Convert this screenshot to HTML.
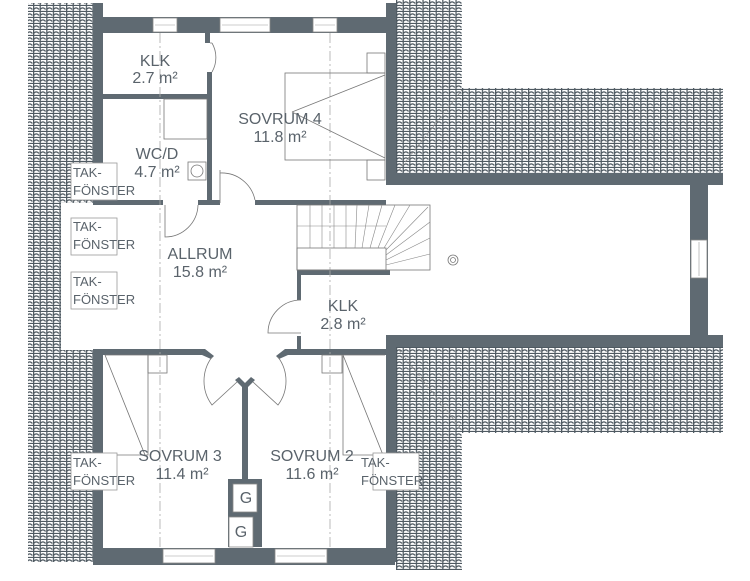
<!DOCTYPE html>
<html><head><meta charset="utf-8">
<style>
html,body{margin:0;padding:0;background:#fff;}
svg{display:block;}
text{font-family:"Liberation Sans",sans-serif;fill:#5a636b;font-size:13px;}
text.r{font-size:16px;text-anchor:middle;}
</style></head><body>
<svg width="750" height="581" viewBox="0 0 750 581" xmlns="http://www.w3.org/2000/svg">
<defs>
<pattern id="t" width="6.6" height="6" patternUnits="userSpaceOnUse">
<rect width="6.6" height="6" fill="#fff"/>
<path d="M0.6,0 V6 M0.6,3.5 Q3.3,0.3 6,3.5 M0.6,5.5 H6.6" stroke="#4f5a62" stroke-width="1.3" fill="none"/>
</pattern>
</defs>
<g fill="url(#t)">
<rect x="28" y="3" width="66" height="200"/>
<rect x="28" y="200" width="33" height="150"/>
<rect x="28" y="350" width="66" height="212"/>
<rect x="396" y="0" width="66" height="90"/>
<rect x="396" y="88" width="327" height="86"/>
<rect x="396" y="347" width="327" height="86"/>
<rect x="396" y="430" width="66" height="140"/>
</g>
<g stroke="#888" stroke-width="0.8" stroke-dasharray="3,2" fill="none">
<line x1="399" y1="170" x2="462" y2="90"/>
<line x1="399" y1="350" x2="462" y2="430"/>
</g>
<g fill="#5f6a72">
<rect x="93" y="3" width="10" height="200"/>
<rect x="93" y="350" width="10" height="215"/>
<rect x="93" y="17" width="302" height="16"/>
<rect x="93" y="548" width="302" height="17"/>
<rect x="386" y="3" width="10" height="182"/>
<rect x="386" y="347" width="10" height="215"/>
<rect x="386" y="173" width="337" height="12"/>
<rect x="386" y="335" width="337" height="12"/>
<rect x="690" y="185" width="18" height="150"/>
<rect x="103" y="94" width="107" height="5"/>
<rect x="207" y="72" width="5" height="130"/>
<rect x="205" y="33" width="5" height="10"/>
<rect x="93" y="200" width="70" height="5"/>
<rect x="198" y="200" width="22" height="5"/>
<rect x="255" y="200" width="131" height="5"/>
<rect x="297" y="270" width="93" height="5"/>
<rect x="297" y="270" width="4" height="30"/>
<rect x="297" y="336" width="4" height="14"/>
<rect x="93" y="349" width="112" height="6"/>
<rect x="285" y="349" width="105" height="6"/>
<rect x="242" y="387" width="6" height="95"/>
<rect x="228" y="479" width="34" height="68"/>
<polygon points="205,349 214,356 211,359 202,355"/>
<polygon points="285,349 276,356 279,359 288,355"/>
<polygon points="242,387 235,380 239,377 245,383 251,377 255,380 248,387"/>
</g>
<g fill="#fff" stroke="#888" stroke-width="0.8">
<rect x="153" y="18" width="24" height="14"/>
<rect x="220" y="18" width="50" height="14"/>
<rect x="313" y="18" width="24" height="14"/>
<rect x="163" y="549" width="52" height="14"/>
<rect x="275" y="549" width="52" height="14"/>
<rect x="691" y="240" width="16" height="38"/>
<rect x="233" y="484" width="24" height="28"/>
<rect x="229" y="517" width="24" height="30"/>
</g>
<g stroke="#999" stroke-width="0.6">
<line x1="155" y1="25" x2="175" y2="25"/><line x1="222" y1="25" x2="268" y2="25"/><line x1="315" y1="25" x2="335" y2="25"/>
<line x1="165" y1="556" x2="213" y2="556"/><line x1="277" y1="556" x2="325" y2="556"/>
<line x1="699" y1="242" x2="699" y2="276"/>
</g>
<g stroke="#aaa" stroke-width="0.8" stroke-dasharray="10,3,2,3" fill="none">
<line x1="160" y1="33" x2="160" y2="548"/>
<line x1="330" y1="33" x2="330" y2="548"/>
</g>
<g stroke="#777" stroke-width="0.8" fill="none">
<path d="M212,43 A 29 29 0 0 1 212,72 M210,43 H212"/>
<path d="M220,173 A 34 34 0 0 1 255,200 M220,170 V203"/>
<path d="M198,205 A 33 33 0 0 1 165,237 V205"/>
<path d="M301,300 A 33 33 0 0 0 268,333 H301"/>
<path d="M212,357 A 40 40 0 0 0 212,405 L237,382"/>
<path d="M278,357 A 40 40 0 0 1 278,405 L253,382"/>
<rect x="285" y="73" width="100" height="87"/>
<line x1="292" y1="112" x2="385" y2="75"/><line x1="292" y1="112" x2="385" y2="158"/>
<rect x="367" y="53" width="18" height="20"/><rect x="367" y="160" width="18" height="20"/>
<rect x="164" y="99" width="43" height="40"/>
<rect x="188" y="162" width="18" height="18"/><circle cx="197" cy="171" r="6"/>
<path d="M105,355 H148 V455 H105 M105,355 L145,455"/>
<rect x="148" y="355" width="19" height="18"/>
<path d="M385,355 H343 V455 H385 M343,355 L383,455"/>
<rect x="322" y="355" width="20" height="18"/>
<rect x="297" y="205" width="133" height="65"/>
<rect x="297" y="248" width="89" height="22"/>
<circle cx="453" cy="260" r="5"/><circle cx="453" cy="260" r="2.5"/>
</g>
<g stroke="#888" stroke-width="0.6">
<line x1="310" y1="205" x2="310" y2="248"/><line x1="322" y1="205" x2="322" y2="248"/>
<line x1="334" y1="205" x2="334" y2="248"/><line x1="346" y1="205" x2="346" y2="248"/>
<line x1="357" y1="205" x2="355" y2="248"/><line x1="369" y1="205" x2="362" y2="248"/>
<line x1="382" y1="205" x2="370" y2="248"/><line x1="395" y1="205" x2="378" y2="248"/>
<line x1="410" y1="205" x2="384" y2="248"/><line x1="428" y1="207" x2="386" y2="250"/>
<line x1="430" y1="222" x2="386" y2="255"/><line x1="430" y1="238" x2="386" y2="260"/>
<line x1="430" y1="254" x2="386" y2="265"/><line x1="297" y1="226" x2="386" y2="226"/>
</g>
<g fill="#fff" stroke="#999" stroke-width="0.8">
<rect x="71" y="163" width="46" height="37"/>
<rect x="71" y="218" width="46" height="37"/>
<rect x="71" y="272" width="46" height="37"/>
<rect x="71" y="453" width="46" height="37"/>
<rect x="373" y="453" width="46" height="37"/>
</g>
<text x="73" y="177">TAK-</text><text x="73" y="195">FÖNSTER</text>
<text x="73" y="231">TAK-</text><text x="73" y="249">FÖNSTER</text>
<text x="73" y="286">TAK-</text><text x="73" y="304">FÖNSTER</text>
<text x="73" y="467">TAK-</text><text x="73" y="485">FÖNSTER</text>
<text x="361" y="467">TAK-</text><text x="361" y="485">FÖNSTER</text>
<text class="r" x="155" y="66">KLK</text><text class="r" x="155" y="83">2.7 m²</text>
<text class="r" x="280" y="124">SOVRUM 4</text><text class="r" x="280" y="142">11.8 m²</text>
<text class="r" x="157" y="159">WC/D</text><text class="r" x="157" y="177">4.7 m²</text>
<text class="r" x="200" y="259">ALLRUM</text><text class="r" x="200" y="277">15.8 m²</text>
<text class="r" x="343" y="311">KLK</text><text class="r" x="343" y="329">2.8 m²</text>
<text class="r" x="180" y="461">SOVRUM 3</text><text class="r" x="182" y="479">11.4 m²</text>
<text class="r" x="312" y="461">SOVRUM 2</text><text class="r" x="312" y="479">11.6 m²</text>
<text class="r" x="246" y="503">G</text><text class="r" x="241" y="537">G</text>
</svg>
</body></html>
